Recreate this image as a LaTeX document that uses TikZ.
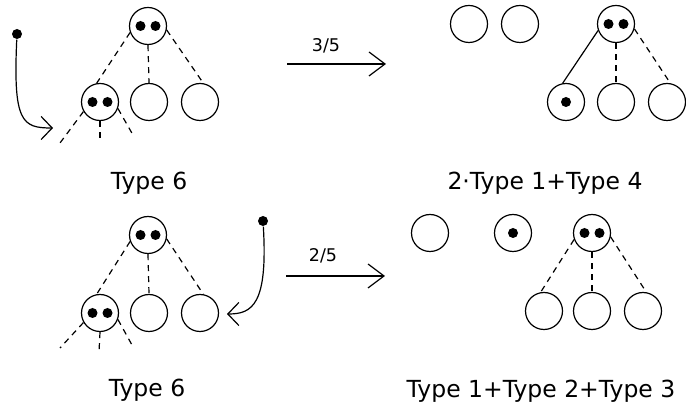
\documentclass[tikz,border=0pt]{standalone}
\usepackage{fontspec}
\setmainfont{DejaVu Sans}
\usetikzlibrary{arrows.meta}

\begin{document}
\begin{tikzpicture}[x=1pt,y=-1pt,line width=1.2pt,
  ball/.style={draw,circle,minimum size=37pt,inner sep=0pt},
  pip/.style={fill,circle,minimum size=10pt,inner sep=0pt},
  link/.style={dash pattern=on 6pt off 5pt},
  lbl/.style={font=\fontsize{23.5}{28}\selectfont,anchor=base},
  prob/.style={font=\fontsize{17.5}{21}\selectfont,anchor=base},
  barb/.style={-{Straight Barb[length=11pt,width=23pt]}},
  bigbarb/.style={-{Straight Barb[length=16pt,width=24pt]}}]
  \useasboundingbox (0,0) rectangle (686,411);
  % first row, before
  \node[ball] (a) at (148,26) {};
  \node[pip] (al) at (140.5,26) {};
  \node[pip] (ar) at (155.5,26) {};
  \node[ball] (a1) at (100,102) {};
  \node[pip] (a1l) at (92.5,102) {};
  \node[pip] (a1r) at (107.5,102) {};
  \node[ball] (a2) at (149,102) {};
  \node[ball] (a3) at (200,102) {};
  \coordinate (ag1) at (60,143);
  \coordinate (ag2) at (100,143);
  \coordinate (ag3) at (133,135);
  \draw[link] (a.200) -- (a1.100);
  \draw[link] (a.south) -- (a2.north);
  \draw[link] (a.-12) -- (a3.80);
  \draw[link] (a1.210) -- (ag1);
  \draw[link] (a1.south) -- (ag2);
  \draw[link] (a1.-20) -- (ag3);
  \node[pip] (pa) at (17,34) {};
  \coordinate (ca) at (53,128);
  \draw[barb] (pa) .. controls (13,122) and (22,128) .. (ca);
  \node[lbl] (ta) at (149,190) {Type 6};
  % first row, after
  \coordinate (s1) at (287,64);
  \coordinate (e1) at (386,64);
  \draw[bigbarb] (s1) -- (e1);
  \node[prob] (f1) at (326,52) {3/5};
  \node[ball] (b1) at (469,24) {};
  \node[ball] (b2) at (520,24) {};
  \node[ball] (b) at (616,24) {};
  \node[pip] (bl) at (608.5,24) {};
  \node[pip] (br) at (623.5,24) {};
  \node[ball] (b3) at (566,102) {};
  \node[pip] (b3p) at (566,102) {};
  \node[ball] (b4) at (616,102) {};
  \node[ball] (b5) at (667,102) {};
  \draw (b.200) -- (b3.100);
  \draw[link] (b.south) -- (b4.north);
  \draw[link] (b.-15) -- (b5.80);
  \node[lbl] (tb) at (545,190) {2·Type 1+Type 4};
  % second row, before
  \node[ball] (c) at (148,235) {};
  \node[pip] (cl) at (140.5,235) {};
  \node[pip] (cr) at (155.5,235) {};
  \node[ball] (c1) at (100,313) {};
  \node[pip] (c1l) at (92.5,313) {};
  \node[pip] (c1r) at (107.5,313) {};
  \node[ball] (c2) at (149,313) {};
  \node[ball] (c3) at (200,313) {};
  \coordinate (cg1) at (60,348);
  \coordinate (cg2) at (99,352);
  \coordinate (cg3) at (132,345);
  \draw[link] (c.200) -- (c1.100);
  \draw[link] (c.south) -- (c2.north);
  \draw[link] (c.-12) -- (c3.80);
  \draw[link] (c1.210) -- (cg1);
  \draw[link] (c1.south) -- (cg2);
  \draw[link] (c1.-20) -- (cg3);
  \node[pip] (pc) at (263,221) {};
  \coordinate (cc) at (227,314);
  \draw[barb] (pc) .. controls (268,305) and (252,314) .. (cc);
  \node[lbl] (tc) at (147,397) {Type 6};
  % second row, after
  \coordinate (s2) at (286,276);
  \coordinate (e2) at (385,276);
  \draw[bigbarb] (s2) -- (e2);
  \node[prob] (f2) at (323,262) {2/5};
  \node[ball] (d1) at (430,233) {};
  \node[ball] (d2) at (513,233) {};
  \node[pip] (d2p) at (513,233) {};
  \node[ball] (d) at (592,233) {};
  \node[pip] (dl) at (584.5,233) {};
  \node[pip] (dr) at (599.5,233) {};
  \node[ball] (d3) at (544,311) {};
  \node[ball] (d4) at (592,311) {};
  \node[ball] (d5) at (643,311) {};
  \draw[link] (d.200) -- (d3.100);
  \draw[link] (d.south) -- (d4.north);
  \draw[link] (d.-12) -- (d5.80);
  \node[lbl] (td) at (541,398) {Type 1+Type 2+Type 3};
\end{tikzpicture}
\end{document}
